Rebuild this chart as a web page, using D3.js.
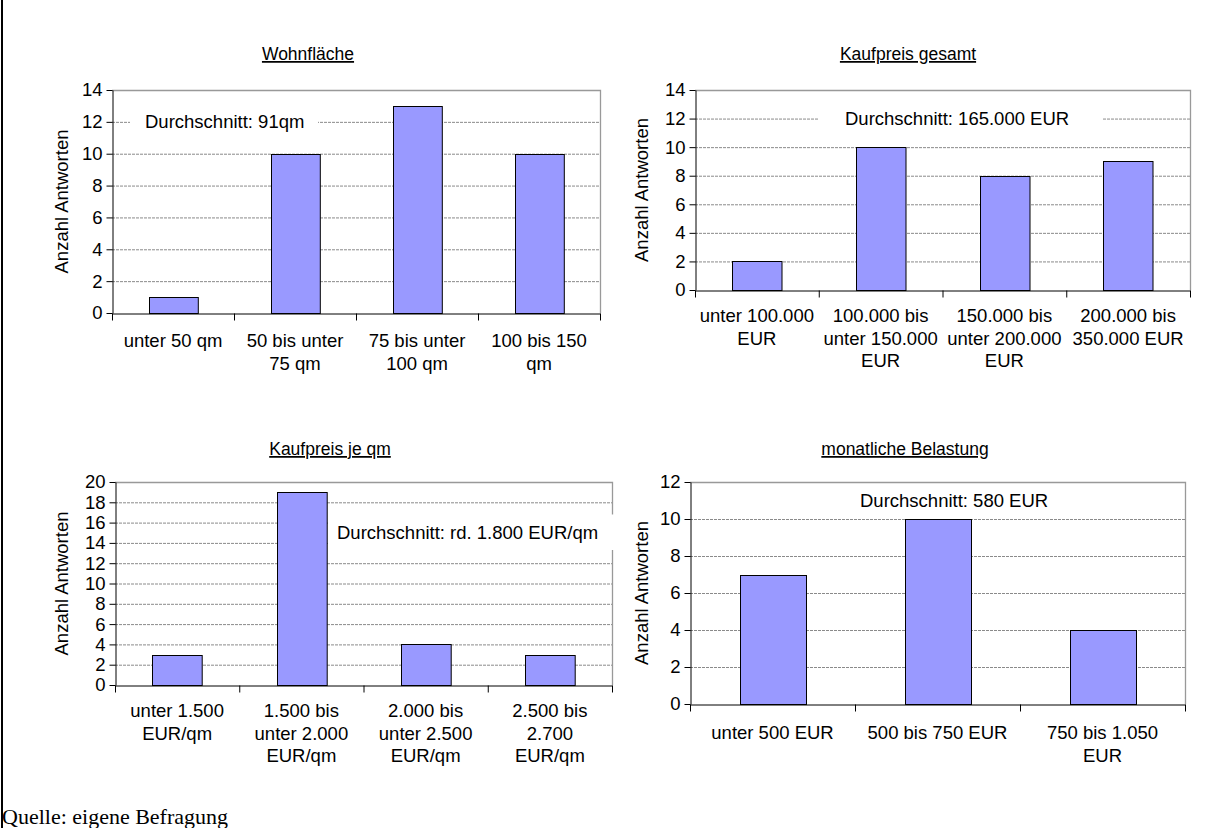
<!DOCTYPE html>
<html>
<head>
<meta charset="utf-8">
<script src="https://cdn.jsdelivr.net/npm/d3@7"></script>
<style>
  html, body { margin: 0; padding: 0; background: #fff; }
  svg { display: block; }
</style>
</head>
<body>
<svg id="c" width="1225" height="828"></svg>
<script>
// ---------- DATA ----------
const titles = ["Wohnfläche", "Kaufpreis gesamt", "Kaufpreis je qm", "monatliche Belastung"];
const yAxisLabel = "Anzahl Antworten";

const categoriesWohnflaeche = [["unter 50 qm"], ["50 bis unter", "75 qm"], ["75 bis unter", "100 qm"], ["100 bis 150", "qm"]];
const valuesWohnflaeche = [1, 10, 13, 10];
const ticksWohnflaeche = [0, 2, 4, 6, 8, 10, 12, 14];
const noteWohnflaeche = "Durchschnitt: 91qm";

const categoriesKaufpreis = [["unter 100.000", "EUR"], ["100.000 bis", "unter 150.000", "EUR"], ["150.000 bis", "unter 200.000", "EUR"], ["200.000 bis", "350.000 EUR"]];
const valuesKaufpreis = [2, 10, 8, 9];
const ticksKaufpreis = [0, 2, 4, 6, 8, 10, 12, 14];
const noteKaufpreis = "Durchschnitt: 165.000 EUR";

const categoriesQm = [["unter 1.500", "EUR/qm"], ["1.500 bis", "unter 2.000", "EUR/qm"], ["2.000 bis", "unter 2.500", "EUR/qm"], ["2.500 bis", "2.700", "EUR/qm"]];
const valuesQm = [3, 19, 4, 3];
const ticksQm = [0, 2, 4, 6, 8, 10, 12, 14, 16, 18, 20];
const noteQm = "Durchschnitt: rd. 1.800 EUR/qm";

const categoriesBelastung = [["unter 500 EUR"], ["500 bis 750 EUR"], ["750 bis 1.050", "EUR"]];
const valuesBelastung = [7, 10, 4];
const ticksBelastung = [0, 2, 4, 6, 8, 10, 12];
const noteBelastung = "Durchschnitt: 580 EUR";

const sourceText = "Quelle: eigene Befragung";

// ---------- LAYOUT / STYLE ----------
const FONT = "'Liberation Sans', Arial, sans-serif";
const FS = 18.5;
const LINE_H = 22.5;
const BAR_FILL = "#9999ff";

const charts = [
  { title: titles[0], cats: categoriesWohnflaeche, vals: valuesWohnflaeche, ticks: ticksWohnflaeche, note: noteWohnflaeche,
    L: 112, R: 600, T: 90, B: 313, titleX: 308, titleY: 60, ylabX: 62, labY: 341,
    noteX: 145, noteV: 12, box: [130, 318, 12.9, 11.1] },
  { title: titles[1], cats: categoriesKaufpreis, vals: valuesKaufpreis, ticks: ticksKaufpreis, note: noteKaufpreis,
    L: 695, R: 1190, T: 90, B: 290, titleX: 908, titleY: 60, ylabX: 642, labY: 316,
    noteX: 845, noteV: 12, box: [818, 1102, 12.9, 11.1] },
  { title: titles[2], cats: categoriesQm, vals: valuesQm, ticks: ticksQm, note: noteQm,
    L: 115, R: 612, T: 482, B: 685, titleX: 330, titleY: 455, ylabX: 62, labY: 711,
    noteX: 337, noteV: 15, box: [328, 616, 16.8, 13.3] },
  { title: titles[3], cats: categoriesBelastung, vals: valuesBelastung, ticks: ticksBelastung, note: noteBelastung,
    L: 690, R: 1185, T: 482, B: 704, titleX: 905, titleY: 455, ylabX: 642, labY: 733,
    noteX: 860, noteV: 11, box: null }
];

const svg = d3.select("#c");

// left page border
svg.append("rect").attr("x", 1).attr("y", 0).attr("width", 2).attr("height", 828).attr("fill", "#000");

charts.forEach(c => {
  const g = svg.append("g");
  const yMax = c.ticks[c.ticks.length - 1];
  const y = d3.scaleLinear().domain([0, yMax]).range([c.B, c.T]);
  const idx = d3.range(c.vals.length);
  const x = d3.scaleBand().domain(idx).range([c.L, c.R]).paddingInner(0.6).paddingOuter(0.3);
  const xb = d3.scaleLinear().domain([0, c.vals.length]).range([c.L, c.R]);

  // gridlines
  g.append("g").selectAll("line").data(c.ticks.filter(t => t > 0 && t < yMax)).join("line")
    .attr("x1", c.L).attr("x2", c.R)
    .attr("y1", d => y(d) + 0.5).attr("y2", d => y(d) + 0.5)
    .attr("stroke", "#8a8a8a").attr("stroke-width", 1).attr("stroke-dasharray", "3,1");

  // plot area border top/right
  g.append("path")
    .attr("d", `M${c.L},${y(yMax) + 0.5}H${c.R + 0.5}V${c.B}`)
    .attr("fill", "none").attr("stroke", "#999").attr("stroke-width", 1.3);

  // annotation box
  if (c.box) {
    g.append("rect").attr("x", c.box[0]).attr("width", c.box[1] - c.box[0])
      .attr("y", y(c.box[2])).attr("height", y(c.box[3]) - y(c.box[2]))
      .attr("fill", "#fff");
  }

  // bars
  g.append("g").selectAll("rect").data(c.vals).join("rect")
    .attr("x", (d, i) => Math.round(x(i)) + 0.5)
    .attr("width", x.bandwidth())
    .attr("y", d => Math.round(y(d)) + 0.5)
    .attr("height", d => c.B - Math.round(y(d)))
    .attr("fill", BAR_FILL).attr("stroke", "#000").attr("stroke-width", 1);

  // y axis
  const ya = g.append("g").attr("transform", `translate(${c.L + 0.5},0)`)
    .call(d3.axisLeft(y).tickValues(c.ticks).tickSize(6).tickSizeOuter(0).tickPadding(4).tickFormat(d3.format("d")));
  ya.select(".domain").attr("stroke", "#000");
  ya.selectAll(".tick line").attr("stroke", "#000");
  ya.selectAll("text").attr("font-family", FONT).attr("font-size", FS).attr("fill", "#000");

  // x axis (tick marks at category boundaries)
  const xa = g.append("g").attr("transform", `translate(0,${c.B + 0.5})`)
    .call(d3.axisBottom(xb).tickValues(d3.range(c.vals.length + 1)).tickSize(7).tickSizeOuter(0).tickFormat(""));
  xa.select(".domain").attr("stroke", "#000");
  xa.selectAll(".tick line").attr("stroke", "#000");

  // category labels
  const lab = g.append("g").selectAll("text").data(c.cats).join("text")
    .attr("x", (d, i) => x(i) + x.bandwidth() / 2)
    .attr("y", c.labY)
    .attr("text-anchor", "middle")
    .attr("font-family", FONT).attr("font-size", FS).attr("fill", "#000");
  lab.each(function(d, i) {
    d3.select(this).selectAll("tspan").data(d).join("tspan")
      .attr("x", x(i) + x.bandwidth() / 2)
      .attr("y", (t, k) => c.labY + k * LINE_H + 6)
      .text(t => t);
  });

  // y axis title
  g.append("text")
    .attr("transform", `translate(${c.ylabX + 6},${(c.T + c.B) / 2}) rotate(-90)`)
    .attr("text-anchor", "middle")
    .attr("font-family", FONT).attr("font-size", FS).attr("fill", "#000")
    .text(yAxisLabel);

  // chart title (underlined)
  g.append("text")
    .attr("x", c.titleX).attr("y", c.titleY)
    .attr("text-anchor", "middle")
    .attr("font-family", FONT).attr("font-size", FS - 1).attr("fill", "#000")
    .attr("text-decoration", "underline")
    .text(c.title);

  // note
  g.append("text")
    .attr("x", c.noteX).attr("y", y(c.noteV) + 6)
    .attr("font-family", FONT).attr("font-size", FS).attr("fill", "#000")
    .text(c.note);
});

// source
svg.append("text")
  .attr("x", 2).attr("y", 824)
  .attr("font-family", "'Liberation Serif', 'Times New Roman', serif")
  .attr("font-size", 22).attr("fill", "#000")
  .text(sourceText);
</script>
</body>
</html>
